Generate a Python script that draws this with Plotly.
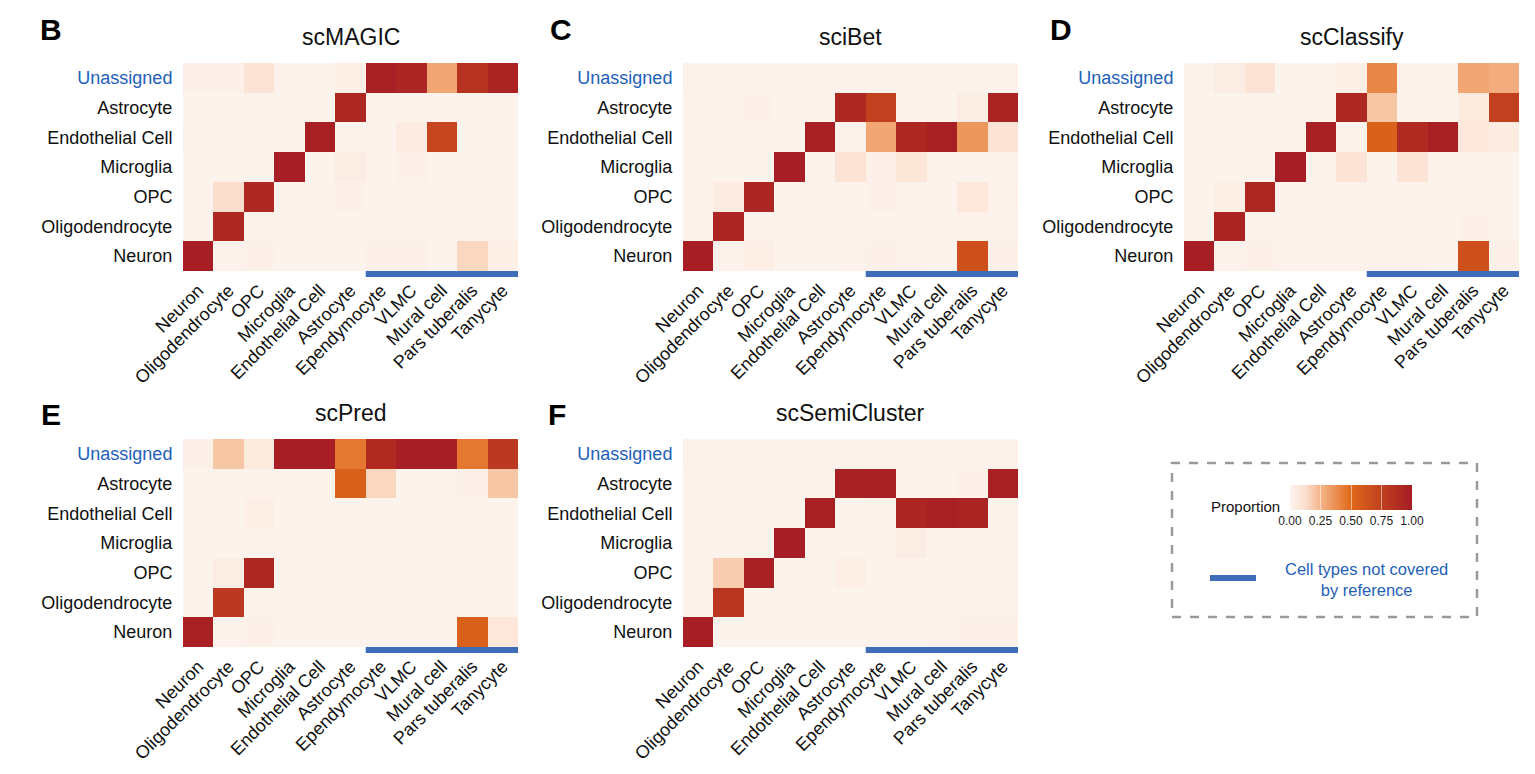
import plotly.graph_objects as go

# ---------------- data ----------------
pred_types = ["Neuron", "Oligodendrocyte", "OPC", "Microglia", "Endothelial Cell", "Astrocyte",
              "Ependymocyte", "VLMC", "Mural cell", "Pars tuberalis", "Tanycyte"]
assigned_types = ["Unassigned", "Astrocyte", "Endothelial Cell", "Microglia", "OPC",
                  "Oligodendrocyte", "Neuron"]
uncovered_types = ["Ependymocyte", "VLMC", "Mural cell", "Pars tuberalis", "Tanycyte"]

scMAGIC = [
    [0.02, 0.02, 0.10, 0.01, 0.01, 0.03, 0.97, 0.93, 0.30, 0.85, 0.95],
    [0.00, 0.00, 0.00, 0.00, 0.00, 0.92, 0.01, 0.00, 0.00, 0.00, 0.00],
    [0.01, 0.00, 0.00, 0.00, 0.97, 0.00, 0.00, 0.05, 0.72, 0.00, 0.00],
    [0.00, 0.00, 0.00, 0.98, 0.00, 0.04, 0.00, 0.02, 0.00, 0.00, 0.00],
    [0.00, 0.13, 0.91, 0.00, 0.00, 0.02, 0.00, 0.00, 0.00, 0.00, 0.00],
    [0.00, 0.91, 0.00, 0.00, 0.00, 0.00, 0.00, 0.00, 0.00, 0.00, 0.00],
    [0.98, 0.01, 0.02, 0.00, 0.00, 0.00, 0.02, 0.02, 0.00, 0.15, 0.03],
]
sciBet = [
    [0.01, 0.01, 0.01, 0.01, 0.01, 0.01, 0.01, 0.01, 0.01, 0.01, 0.01],
    [0.00, 0.01, 0.02, 0.00, 0.00, 0.92, 0.75, 0.00, 0.00, 0.04, 0.95],
    [0.00, 0.00, 0.00, 0.00, 0.97, 0.01, 0.30, 0.92, 0.97, 0.35, 0.10],
    [0.00, 0.00, 0.00, 0.98, 0.00, 0.10, 0.02, 0.09, 0.00, 0.00, 0.00],
    [0.00, 0.05, 0.93, 0.00, 0.00, 0.00, 0.02, 0.00, 0.00, 0.08, 0.01],
    [0.00, 0.93, 0.00, 0.00, 0.00, 0.00, 0.00, 0.00, 0.00, 0.01, 0.00],
    [0.98, 0.01, 0.03, 0.00, 0.00, 0.01, 0.02, 0.01, 0.00, 0.65, 0.02],
]
scClassify = [
    [0.01, 0.04, 0.10, 0.00, 0.00, 0.03, 0.40, 0.01, 0.01, 0.30, 0.28],
    [0.00, 0.00, 0.00, 0.00, 0.00, 0.92, 0.20, 0.00, 0.00, 0.06, 0.75],
    [0.00, 0.00, 0.00, 0.00, 0.97, 0.00, 0.55, 0.90, 0.97, 0.08, 0.05],
    [0.00, 0.00, 0.00, 0.98, 0.00, 0.10, 0.00, 0.10, 0.00, 0.00, 0.00],
    [0.00, 0.03, 0.92, 0.00, 0.00, 0.00, 0.00, 0.00, 0.00, 0.01, 0.00],
    [0.00, 0.95, 0.00, 0.00, 0.00, 0.00, 0.00, 0.00, 0.00, 0.02, 0.00],
    [0.98, 0.01, 0.02, 0.01, 0.01, 0.01, 0.01, 0.01, 0.00, 0.65, 0.02],
]
scPred = [
    [0.02, 0.20, 0.06, 0.98, 0.98, 0.45, 0.90, 0.98, 0.98, 0.45, 0.80],
    [0.00, 0.00, 0.00, 0.00, 0.00, 0.55, 0.15, 0.00, 0.00, 0.02, 0.20],
    [0.00, 0.00, 0.03, 0.00, 0.00, 0.00, 0.00, 0.00, 0.00, 0.00, 0.00],
    [0.00, 0.00, 0.00, 0.01, 0.00, 0.00, 0.00, 0.00, 0.00, 0.00, 0.00],
    [0.00, 0.04, 0.92, 0.00, 0.00, 0.00, 0.00, 0.00, 0.00, 0.00, 0.00],
    [0.00, 0.80, 0.00, 0.00, 0.00, 0.00, 0.00, 0.00, 0.00, 0.00, 0.00],
    [0.97, 0.01, 0.02, 0.00, 0.00, 0.00, 0.00, 0.00, 0.00, 0.55, 0.08],
]
scSemiCluster = [
    [0.01, 0.01, 0.01, 0.01, 0.01, 0.01, 0.01, 0.01, 0.01, 0.01, 0.01],
    [0.00, 0.00, 0.01, 0.00, 0.00, 0.96, 0.97, 0.00, 0.00, 0.02, 0.97],
    [0.00, 0.00, 0.00, 0.00, 0.97, 0.00, 0.00, 0.94, 0.97, 0.95, 0.00],
    [0.00, 0.00, 0.00, 0.98, 0.00, 0.00, 0.00, 0.04, 0.00, 0.00, 0.00],
    [0.00, 0.18, 0.97, 0.00, 0.00, 0.03, 0.00, 0.00, 0.00, 0.00, 0.00],
    [0.00, 0.82, 0.00, 0.00, 0.00, 0.00, 0.00, 0.00, 0.00, 0.00, 0.00],
    [0.98, 0.00, 0.00, 0.00, 0.00, 0.00, 0.00, 0.00, 0.01, 0.02, 0.02],
]

methods = ["scMAGIC", "sciBet", "scClassify", "scPred", "scSemiCluster"]
panel_letters = ["B", "C", "D", "E", "F"]
matrices = [scMAGIC, sciBet, scClassify, scPred, scSemiCluster]

# ---------------- layout helpers ----------------
W, H = 1535, 774
OFF = 8  # page body margin offset
def px_x(p): return (p - OFF) / W
def px_y(p): return 1 - (p - OFF) / H

# panel boxes in (screen) pixels: (x0, x1, ytop, ybottom)
boxes = [
    (183, 518, 63, 271),
    (683, 1018, 63, 271),
    (1184, 1519, 63, 271),
    (183, 518, 439, 647),
    (683, 1018, 439, 647),
]
letter_pos = [(51, 30), (561, 30), (1061, 30), (51, 414), (557, 414)]

colorscale = [
    [0.0, "#fdf3ed"],
    [0.12, "#fbe1d1"],
    [0.25, "#f5b58a"],
    [0.5, "#e0691a"],
    [0.75, "#c1401f"],
    [1.0, "#a51c24"],
]
BLUE = "#3d6cb9"
LABEL_BLUE = "#2360b8"
FONT = "Liberation Sans, Arial, sans-serif"

fig = go.Figure()
layout_axes = {}
shapes = []
annotations = []

ytext = [f'<span style="color:{LABEL_BLUE}">{t}</span>' if t == "Unassigned" else t
         for t in assigned_types]

for i, (name, mat, box) in enumerate(zip(methods, matrices, boxes)):
    k = "" if i == 0 else str(i + 1)
    xa, ya = "x" + k, "y" + k
    fig.add_trace(go.Heatmap(
        z=mat, x=pred_types, y=assigned_types, coloraxis="coloraxis",
        xaxis=xa, yaxis=ya, hoverinfo="skip", xgap=0, ygap=0,
    ))
    x0, x1, yt, yb = box
    layout_axes["xaxis" + k] = dict(
        domain=[px_x(x0), px_x(x1)], anchor=ya, tickangle=-45, automargin=False,
        tickfont=dict(size=18, color="#111", family=FONT),
        ticks="outside", ticklen=1, tickcolor="rgba(0,0,0,0)",
        showgrid=False, zeroline=False, showline=False,
        categoryorder="array", categoryarray=pred_types, fixedrange=True,
    )
    layout_axes["yaxis" + k] = dict(
        domain=[px_y(yb), px_y(yt)], anchor=xa, autorange="reversed", automargin=False,
        tickvals=assigned_types, ticktext=ytext,
        tickfont=dict(size=18, color="#111", family=FONT),
        ticks="outside", ticklen=6, tickcolor="rgba(0,0,0,0)",
        showgrid=False, zeroline=False, showline=False, fixedrange=True,
    )
    # blue bar under uncovered cell types
    i0 = pred_types.index(uncovered_types[0])
    i1 = pred_types.index(uncovered_types[-1])
    shapes.append(dict(type="rect", xref=xa, yref=ya + " domain",
                       x0=i0 - 0.5, x1=i1 + 0.5, y0=-0.029, y1=0.0,
                       fillcolor=BLUE, line=dict(width=0), layer="above"))
    # title
    annotations.append(dict(text=name, xref="paper", yref="paper",
                            x=px_x((x0 + x1) / 2), y=px_y(yt - 26),
                            xanchor="center", yanchor="middle", showarrow=False,
                            font=dict(size=23, color="#111", family=FONT)))
    lx, ly = letter_pos[i]
    annotations.append(dict(text=f"<b>{panel_letters[i]}</b>", xref="paper", yref="paper",
                            x=px_x(lx), y=px_y(ly), xanchor="center", yanchor="middle",
                            showarrow=False, font=dict(size=30, color="#000", family=FONT)))

# legend box
shapes.append(dict(type="rect", xref="paper", yref="paper",
                   x0=px_x(1172), x1=px_x(1477), y0=px_y(617), y1=px_y(463),
                   line=dict(color="#9a9a9a", width=2.5, dash="dash"), fillcolor="rgba(0,0,0,0)"))
shapes.append(dict(type="line", xref="paper", yref="paper",
                   x0=px_x(1210), x1=px_x(1256), y0=px_y(578), y1=px_y(578),
                   line=dict(color=BLUE, width=6)))
annotations.append(dict(text="Proportion", xref="paper", yref="paper",
                        x=px_x(1245), y=px_y(507), xanchor="center", yanchor="middle",
                        showarrow=False, font=dict(size=15, color="#111", family=FONT)))
annotations.append(dict(text="Cell types not covered<br>by reference", xref="paper", yref="paper",
                        x=px_x(1366), y=px_y(579), xanchor="center", yanchor="middle",
                        showarrow=False, align="center",
                        font=dict(size=16.5, color=LABEL_BLUE, family=FONT)))

fig.update_layout(
    width=W, height=H,
    margin=dict(l=0, r=0, t=0, b=0, pad=0, autoexpand=False),
    paper_bgcolor="white", plot_bgcolor="white",
    font=dict(family=FONT),
    shapes=shapes, annotations=annotations,
    coloraxis=dict(
        colorscale=colorscale, cmin=0, cmax=1,
        colorbar=dict(
            orientation="h", x=px_x(1351), xanchor="center",
            y=px_y(485), yanchor="top",
            len=122, lenmode="pixels", thickness=25, thicknessmode="pixels",
            xpad=0, ypad=0, outlinewidth=0,
            tickvals=[0, 0.25, 0.5, 0.75, 1.0], tickformat=".2f",
            ticks="inside", ticklen=25, tickwidth=1, tickcolor="rgba(255,255,255,0.5)",
            tickfont=dict(size=12, color="#222", family=FONT),
        ),
    ),
    **layout_axes,
)

fig.write_html("out.html", config={"displayModeBar": False})
